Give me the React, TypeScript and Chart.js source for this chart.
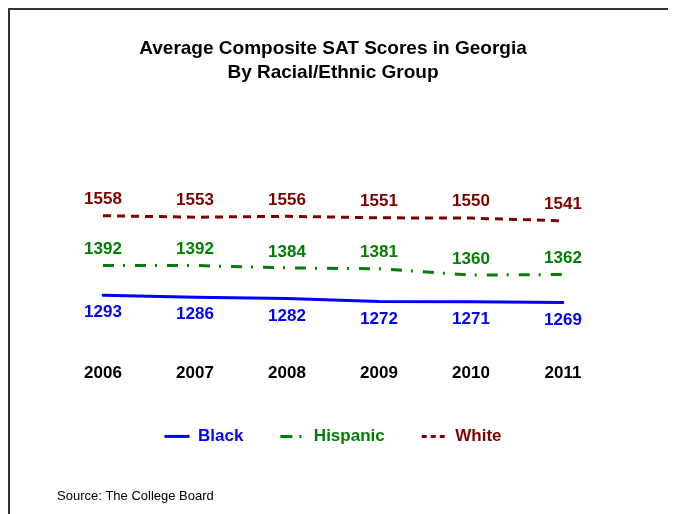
import React, { useEffect, useRef } from 'react';
import { Chart, registerables } from 'chart.js';

Chart.register(...registerables);

const years = ['2006', '2007', '2008', '2009', '2010', '2011'];
const blackScores = [1293, 1286, 1282, 1272, 1271, 1269];
const hispanicScores = [1392, 1392, 1384, 1381, 1360, 1362];
const whiteScores = [1558, 1553, 1556, 1551, 1550, 1541];
const seriesNames = ['Black', 'Hispanic', 'White'];
const titleLines = ['Average Composite SAT Scores in Georgia', 'By Racial/Ethnic Group'];
const sourceNote = 'Source: The College Board';

const FONT = "'Liberation Sans', Arial, Helvetica, sans-serif";
const BLUE = '#0000ff';
const GREEN = '#008000';
const MAROON = '#800000';

const valueLabels = {
  id: 'valueLabels',
  afterDatasetsDraw(chart: any) {
    const ctx = chart.ctx;
    ctx.save();
    ctx.font = `bold 17px ${FONT}`;
    ctx.textAlign = 'center';
    ctx.textBaseline = 'middle';
    chart.data.datasets.forEach((ds: any, i: number) => {
      const meta = chart.getDatasetMeta(i);
      ctx.fillStyle = ds.borderColor;
      meta.data.forEach((pt: any, j: number) => {
        ctx.fillText(String(ds.data[j]), pt.x, pt.y + ds.labelOffset);
      });
    });
    ctx.restore();
  },
};

const sourcePlugin = {
  id: 'sourceNote',
  afterDraw(chart: any) {
    const ctx = chart.ctx;
    ctx.save();
    ctx.font = `13px ${FONT}`;
    ctx.fillStyle = '#000';
    ctx.textAlign = 'left';
    ctx.textBaseline = 'middle';
    ctx.fillText(sourceNote, 47, 486);
    ctx.restore();
  },
};

export default function App() {
  const ref = useRef<HTMLCanvasElement | null>(null);

  useEffect(() => {
    document.body.style.overflow = 'hidden';
    if (!ref.current) return;
    const chart = new Chart(ref.current, {
      type: 'line',
      data: {
        labels: years,
        datasets: [
          {
            label: seriesNames[0],
            data: blackScores,
            borderColor: BLUE,
            backgroundColor: BLUE,
            borderWidth: 3,
            borderDash: [],
            borderCapStyle: 'round',
            pointRadius: 0,
            tension: 0,
            labelOffset: 17.5,
            legendDash: [],
          } as any,
          {
            label: seriesNames[1],
            data: hispanicScores,
            borderColor: GREEN,
            backgroundColor: GREEN,
            borderWidth: 3,
            borderDash: [11, 9, 2, 10],
            pointRadius: 0,
            tension: 0,
            labelOffset: -16,
            legendDash: [12, 7, 2, 10],
          } as any,
          {
            label: seriesNames[2],
            data: whiteScores,
            borderColor: MAROON,
            backgroundColor: MAROON,
            borderWidth: 3,
            borderDash: [8, 6],
            pointRadius: 0,
            tension: 0,
            labelOffset: -16.4,
            legendDash: [5, 4, 5, 4, 5, 3, 1, 10],
          } as any,
        ],
      },
      options: {
        animation: false,
        responsive: false,
        maintainAspectRatio: false,
        events: [],
        layout: { padding: { left: 93, right: 113, top: 0, bottom: 51.1 } },
        plugins: {
          tooltip: { enabled: false },
          title: {
            display: true,
            text: titleLines,
            color: '#000',
            font: { family: FONT, size: 19, weight: 'bold', lineHeight: 1.3 },
            padding: { top: 26, bottom: 87.7 },
          },
          legend: {
            position: 'bottom',
            labels: {
              usePointStyle: true,
              pointStyleWidth: 25,
              padding: 37,
              font: { family: FONT, size: 17, weight: 'bold' },
              generateLabels: (c: any) =>
                c.data.datasets.map((ds: any, i: number) => ({
                  text: ds.label,
                  fillStyle: ds.borderColor,
                  strokeStyle: ds.borderColor,
                  fontColor: ds.borderColor,
                  lineWidth: 3,
                  lineDash: ds.legendDash,
                  pointStyle: 'line',
                  datasetIndex: i,
                  hidden: false,
                })),
            },
          },
        },
        scales: {
          x: {
            type: 'category',
            grid: { display: false, drawTicks: false },
            border: { display: false },
            ticks: {
              color: '#000',
              font: { family: FONT, size: 17, weight: 'bold', lineHeight: 1 },
              padding: 0,
              autoSkip: false,
              maxRotation: 0,
            },
            afterFit: (s: any) => {
              s.height = 25.8;
            },
          },
          y: { display: false, min: 1060, max: 1700 },
        },
      } as any,
      plugins: [valueLabels, sourcePlugin],
    });
    return () => chart.destroy();
  }, []);

  return (
    <div
      style={{
        width: 668,
        height: 506,
        overflow: 'hidden',
        boxSizing: 'border-box',
        borderLeft: '2px solid #333',
        borderTop: '2px solid #333',
        background: '#fff',
      }}
    >
      <canvas ref={ref} width={666} height={496} style={{ display: 'block' }} />
    </div>
  );
}
